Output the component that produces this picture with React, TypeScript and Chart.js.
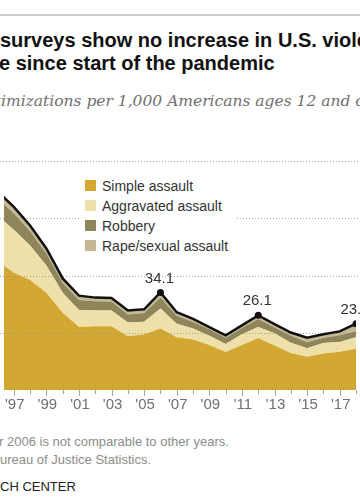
import React, { useEffect, useRef } from "react";
import { Chart, registerables } from "chart.js";

Chart.register(...registerables);

// ---- Data ----
const years = [1996, 1997, 1998, 1999, 2000, 2001, 2002, 2003, 2004, 2005, 2006, 2007, 2008, 2009, 2010, 2011, 2012, 2013, 2014, 2015, 2016, 2017, 2018];
const simpleAssault = [45.0, 41.0, 38.5, 34.0, 27.0, 22.0, 22.3, 22.3, 18.8, 19.5, 21.5, 18.4, 17.7, 15.7, 13.3, 15.7, 18.2, 15.6, 12.9, 11.6, 12.8, 13.4, 14.4];
const aggravatedAssault = [16.0, 15.0, 12.0, 9.5, 7.0, 6.0, 5.5, 5.5, 4.8, 4.4, 7.0, 4.8, 3.8, 3.3, 2.8, 3.8, 3.8, 4.2, 3.6, 3.0, 3.6, 3.4, 4.0];
const robbery = [6.0, 5.8, 5.0, 4.2, 3.5, 3.5, 3.2, 3.1, 2.8, 3.0, 3.8, 2.8, 2.3, 2.2, 2.2, 2.2, 2.8, 2.1, 2.5, 2.1, 1.9, 2.3, 2.1];
const rapeSexualAssault = [2.5, 2.2, 2.0, 1.8, 1.5, 1.5, 1.3, 1.3, 1.4, 1.3, 1.8, 1.2, 1.1, 0.8, 0.8, 0.9, 1.3, 1.1, 1.1, 1.6, 1.2, 1.4, 2.7];
const totalRate = [69.5, 64.0, 57.5, 49.5, 39.0, 33.0, 32.3, 32.2, 27.8, 28.2, 34.1, 27.2, 24.9, 22.0, 19.1, 22.6, 26.1, 23.0, 20.1, 18.3, 19.5, 20.5, 23.2];
const labeledYears = [2006, 2012, 2018];
const tickYears = [1997, 1998, 1999, 2000, 2001, 2002, 2003, 2004, 2005, 2006, 2007, 2008, 2009, 2010, 2011, 2012, 2013, 2014, 2015, 2016, 2017, 2018];
const labelYears = [1997, 1999, 2001, 2003, 2005, 2007, 2009, 2011, 2013, 2015, 2017];
const tickLabels = ["'97", "'99", "'01", "'03", "'05", "'07", "'09", "'11", "'13", "'15", "'17"];
const gridValues = [20, 40, 60, 80];
const seriesNames = ["Simple assault", "Aggravated assault", "Robbery", "Rape/sexual assault"];
const seriesColors = ["#D3A832", "#EFE0AA", "#8E865A", "#C5B994"];

const SANS = '"Liberation Sans", Arial, sans-serif';

function Clipped({ prefix, text, style }: { prefix: string; text: string; style: React.CSSProperties }) {
  return (
    <div style={{ position: "absolute", whiteSpace: "pre", ...style }}>
      <span style={{ position: "absolute", right: "100%", top: 0, whiteSpace: "pre" }}>{prefix}</span>
      {text}
    </div>
  );
}

export default function App() {
  const ref = useRef<HTMLCanvasElement | null>(null);

  useEffect(() => {
    if (!ref.current) return;
    const pts = (arr: number[]) => years.map((yr, i) => ({ x: yr, y: arr[i] }));

    const overlay = {
      id: "overlay",
      afterDatasetDraw(chart: any, args: any) {
        if (args.index !== 1) return;
        const { ctx, scales } = chart;
        ctx.save();
        ctx.strokeStyle = "rgba(140,140,140,0.75)";
        ctx.lineWidth = 1;
        ctx.setLineDash([1, 2]);
        gridValues.forEach((v) => {
          const y = Math.round(scales.y.getPixelForValue(v)) + 0.5;
          ctx.beginPath();
          ctx.moveTo(0, y);
          ctx.lineTo(chart.width, y);
          ctx.stroke();
        });
        ctx.restore();
      },
      afterDraw(chart: any) {
        const { ctx, scales } = chart;
        const base = scales.y.getPixelForValue(0);
        ctx.save();
        ctx.strokeStyle = "#a8a8a8";
        ctx.lineWidth = 1;
        tickYears.forEach((yr) => {
          const x = Math.round(scales.x.getPixelForValue(yr)) + 0.5;
          const len = labelYears.includes(yr) ? 6 : 4;
          ctx.beginPath();
          ctx.moveTo(x, base);
          ctx.lineTo(x, base + len);
          ctx.stroke();
        });
        ctx.fillStyle = "#707070";
        ctx.font = `15px ${SANS}`;
        ctx.textAlign = "center";
        ctx.textBaseline = "middle";
        labelYears.forEach((yr, i) => {
          ctx.fillText(tickLabels[i], scales.x.getPixelForValue(yr) + 1, base + 15);
        });
        ctx.fillStyle = "#333";
        ctx.font = `15px ${SANS}`;
        labeledYears.forEach((yr) => {
          const i = years.indexOf(yr);
          const x = scales.x.getPixelForValue(yr);
          const y = scales.y.getPixelForValue(totalRate[i]);
          ctx.fillText(totalRate[i].toFixed(1), x - 1, y - 14);
        });
        ctx.restore();
      },
    };

    const areaSeries = [simpleAssault, aggravatedAssault, robbery, rapeSexualAssault];
    const chart = new Chart(ref.current, {
      type: "line",
      data: {
        datasets: [
          {
            label: "Total",
            data: pts(totalRate),
            stack: "total",
            borderColor: "#111",
            borderWidth: 2.5,
            fill: false,
            tension: 0,
            pointRadius: (c: any) => (labeledYears.includes(years[c.dataIndex]) ? 3.5 : 0),
            pointBackgroundColor: "#111",
            pointBorderWidth: 0,
          } as any,
          ...areaSeries.map((arr, k) => ({
            label: seriesNames[k],
            data: pts(arr),
            stack: "parts",
            backgroundColor: seriesColors[k],
            borderWidth: 0,
            borderColor: seriesColors[k],
            pointRadius: 0,
            tension: 0,
            fill: k === 0 ? "origin" : "-1",
          })),
        ],
      },
      options: {
        responsive: false,
        animation: false,
        devicePixelRatio: 1,
        layout: { padding: { top: 10, bottom: 30, left: 0, right: 0 } },
        plugins: { legend: { display: false }, tooltip: { enabled: false } },
        scales: {
          x: { type: "linear", min: 1996.4, max: 2018, display: false },
          y: { stacked: true, min: 0, max: 96.5, display: false },
        },
      },
      plugins: [overlay],
    } as any);
    return () => chart.destroy();
  }, []);

  return (
    <div style={{ position: "fixed", left: 0, top: 0, width: 360, height: 504, overflow: "hidden", background: "#fff", fontFamily: SANS }}>
      <div style={{ position: "absolute", left: 0, top: 14, width: 360, height: 2, background: "#cacaca" }} />
      <Clipped prefix="Federal " text="surveys show no increase in U.S. violent crime" style={{ left: 0, top: 29, fontSize: 20, fontWeight: 700, lineHeight: "22px", color: "#111" }} />
      <Clipped prefix="rat" text="e since start of the pandemic" style={{ left: -1, top: 52, fontSize: 20, fontWeight: 700, lineHeight: "22px", color: "#111" }} />
      <Clipped prefix="Violent vict" text="imizations per 1,000 Americans ages 12 and older" style={{ left: 1, top: 91, fontSize: 15.5, fontStyle: "italic", fontFamily: '"DejaVu Serif", Georgia, serif', lineHeight: "20px", color: "#707070" }} />
      <canvas ref={ref} width={360} height={316} style={{ position: "absolute", left: 0, top: 104 }} />
      <div style={{ position: "absolute", left: 80, top: 175, width: 156, height: 82, background: "#fff" }} />
      {seriesNames.map((name, k) => (
        <React.Fragment key={name}>
          <div style={{ position: "absolute", left: 85, top: 180 + k * 20, width: 11, height: 11, background: seriesColors[k] }} />
          <div style={{ position: "absolute", left: 102, top: 178 + k * 20, fontSize: 14, lineHeight: "16px", color: "#333", whiteSpace: "nowrap" }}>{name}</div>
        </React.Fragment>
      ))}
      <Clipped prefix="Note: Data for " text="2006 is not comparable to other years." style={{ left: 7, top: 434, fontSize: 13, lineHeight: "16px", color: "#8c8c8c" }} />
      <Clipped prefix="Source: B" text="ureau of Justice Statistics." style={{ left: 0, top: 452, fontSize: 13, lineHeight: "16px", color: "#8c8c8c" }} />
      <Clipped prefix="PEW RESEAR" text="CH CENTER" style={{ left: 0, top: 479, fontSize: 13, lineHeight: "16px", color: "#222" }} />
    </div>
  );
}
